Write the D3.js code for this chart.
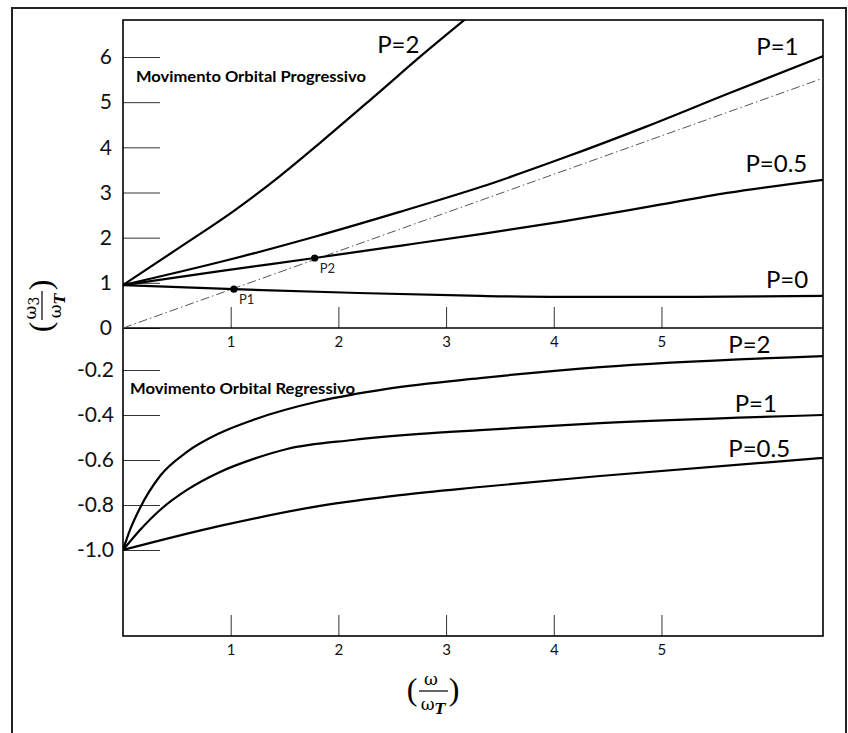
<!DOCTYPE html>
<html>
<head>
<meta charset="utf-8">
<script src="https://cdn.jsdelivr.net/npm/d3@7"></script>
<style>
  html, body { margin: 0; padding: 0; background: #fff; }
  svg { display: block; }
</style>
</head>
<body>
<svg id="chart" width="848" height="733"></svg>
<script>
// ---------------- data ----------------
const xTicks = [1, 2, 3, 4, 5];
const yTicksUpper = [0, 1, 2, 3, 4, 5, 6];
const yTicksLower = [-0.2, -0.4, -0.6, -0.8, -1.0];

// Movimento orbital progressivo (upper half)
const progP2  = [[0,0.95],[0.53,1.79],[1.04,2.61],[1.46,3.37],[1.83,4.10],[2.34,5.14],[2.80,6.09],[3.19,6.86]];
const progP1  = [[0,0.95],[0.90,1.46],[1.78,2.02],[2.57,2.57],[3.32,3.12],[4.06,3.74],[4.87,4.47],[5.61,5.18],[6.5,6.02]];
const progP05 = [[0,0.95],[0.90,1.26],[1.78,1.55],[2.57,1.82],[3.32,2.08],[4.06,2.35],[4.87,2.68],[5.61,2.99],[6.5,3.28]];
const progP0  = [[0,0.95],[1.03,0.86],[2.11,0.78],[3.32,0.71],[4.06,0.69],[5.3,0.69],[6.5,0.71]];
const refLine = [[0,0],[6.5,5.53]];
const points  = [{name:"P1", x:1.03, y:0.86}, {name:"P2", x:1.78, y:1.55}];

// Movimento orbital regressivo (lower half)
const regP2  = [[0,-1],[0.065,-0.911],[0.158,-0.813],[0.344,-0.671],[0.594,-0.564],[0.901,-0.48],[1.207,-0.422],[1.829,-0.338],[2.451,-0.284],[3.315,-0.236],[4.429,-0.187],[6.5,-0.138]];
const regP1  = [[0,-1],[0.158,-0.911],[0.344,-0.822],[0.594,-0.733],[0.901,-0.653],[1.207,-0.596],[1.523,-0.551],[2.136,-0.511],[2.758,-0.484],[3.315,-0.467],[4.429,-0.436],[6.5,-0.40]];
const regP05 = [[0,-1],[0.901,-0.893],[1.829,-0.804],[2.572,-0.756],[3.315,-0.72],[4.429,-0.671],[6.5,-0.591]];

// ---------------- layout ----------------
const svg = d3.select("#chart");
const L = 123, R = 823, T = 20, B = 636, MID = 328;

const x = d3.scaleLinear().domain([0, 6.5]).range([L, R]);
const yU = d3.scaleLinear().domain([0, 6]).range([MID, 57]);
const yL = d3.scaleLinear().domain([-1, -0.2]).range([550, 370]);

const labelFont = "Lato, 'Open Sans', sans-serif";

// outer frame
svg.append("rect").attr("x", 12).attr("y", 8).attr("width", 834).attr("height", 760)
  .attr("fill", "none").attr("stroke", "#222").attr("stroke-width", 2);

// clip
svg.append("clipPath").attr("id", "plotclip").append("rect")
  .attr("x", L).attr("y", T).attr("width", R - L).attr("height", B - T);

// y axis upper
const gyU = svg.append("g").attr("transform", `translate(${L},0)`)
  .call(d3.axisLeft(yU).tickValues(yTicksUpper).tickSize(-37).tickPadding(11).tickFormat(d => String(d)));
// y axis lower
const gyL = svg.append("g").attr("transform", `translate(${L},0)`)
  .call(d3.axisLeft(yL).tickValues(yTicksLower).tickSize(-37).tickPadding(9).tickFormat(d => d.toFixed(1)));
[gyU, gyL].forEach(g => {
  g.select(".domain").remove();
  g.selectAll(".tick line").attr("stroke", "#333").attr("stroke-width", 1);
  g.selectAll(".tick text").attr("font-family", labelFont).attr("font-size", 21).attr("fill", "#111");
});

// x axis middle and bottom
[MID, B].forEach(yy => {
  const g = svg.append("g").attr("transform", `translate(0,${yy})`)
    .call(d3.axisBottom(x).tickValues(xTicks).tickSize(-21).tickPadding(8).tickFormat(d => String(d)));
  g.select(".domain").remove();
  g.selectAll(".tick line").attr("stroke", "#333").attr("stroke-width", 1);
  g.selectAll(".tick text").attr("font-family", labelFont).attr("font-size", 15).attr("fill", "#111");
});

// box and middle line
svg.append("rect").attr("x", L).attr("y", T).attr("width", R - L).attr("height", B - T)
  .attr("fill", "none").attr("stroke", "#000").attr("stroke-width", 1.6);
svg.append("line").attr("x1", L).attr("x2", R).attr("y1", MID).attr("y2", MID)
  .attr("stroke", "#000").attr("stroke-width", 1.6);

// curves
const plot = svg.append("g").attr("clip-path", "url(#plotclip)");
const lineU = d3.line().x(d => x(d[0])).y(d => yU(d[1])).curve(d3.curveMonotoneX);
const lineL = d3.line().x(d => x(d[0])).y(d => yL(d[1])).curve(d3.curveMonotoneX);

plot.append("path").datum(refLine).attr("d", d3.line().x(d => x(d[0])).y(d => yU(d[1])))
  .attr("fill", "none").attr("stroke", "#555").attr("stroke-width", 1)
  .attr("stroke-dasharray", "9,3,1.5,3");

[progP2, progP1, progP05, progP0].forEach(s => {
  plot.append("path").datum(s).attr("d", lineU)
    .attr("fill", "none").attr("stroke", "#000").attr("stroke-width", 2.2);
});
[regP2, regP1, regP05].forEach(s => {
  plot.append("path").datum(s).attr("d", lineL)
    .attr("fill", "none").attr("stroke", "#000").attr("stroke-width", 2.2);
});

// points P1, P2
svg.selectAll("circle.pt").data(points).enter().append("circle")
  .attr("class", "pt").attr("cx", d => x(d.x)).attr("cy", d => yU(d.y)).attr("r", 3.6).attr("fill", "#000");
svg.selectAll("text.pt").data(points).enter().append("text")
  .attr("class", "pt").attr("x", d => x(d.x) + 5).attr("y", d => yU(d.y) + 15)
  .attr("font-family", labelFont).attr("font-size", 13).attr("fill", "#222").text(d => d.name);

// curve labels
const curveLabels = [
  {t: "P=2",   xv: 2.36, y: 53},
  {t: "P=1",   xv: 5.88, y: 55},
  {t: "P=0.5", xv: 5.78, y: 172},
  {t: "P=0",   xv: 5.97, y: 288},
  {t: "P=2",   xv: 5.62, y: 353},
  {t: "P=1",   xv: 5.68, y: 412},
  {t: "P=0.5", xv: 5.62, y: 457}
];
svg.selectAll("text.cl").data(curveLabels).enter().append("text")
  .attr("class", "cl").attr("x", d => x(d.xv)).attr("y", d => d.y)
  .attr("font-family", labelFont).attr("font-size", 24).attr("fill", "#000").text(d => d.t);

// section titles
svg.append("text").attr("x", 136).attr("y", 82).attr("font-family", labelFont)
  .attr("font-weight", "bold").attr("font-size", 14.5).attr("textLength", 230).attr("lengthAdjust", "spacingAndGlyphs")
  .text("Movimento Orbital Progressivo");
svg.append("text").attr("x", 130).attr("y", 394).attr("font-family", labelFont)
  .attr("font-weight", "bold").attr("font-size", 14.5).attr("textLength", 225).attr("lengthAdjust", "spacingAndGlyphs")
  .text("Movimento Orbital Regressivo");

// axis titles (fractions)
function fraction(g, numSub) {
  const serif = "'DejaVu Serif', 'Liberation Serif', serif";
  const num = g.append("text").attr("x", -2).attr("y", -6).attr("text-anchor", "middle")
    .attr("font-family", serif).attr("font-size", 17);
  num.append("tspan").text("ω");
  if (numSub) num.append("tspan").attr("font-size", 14).attr("dy", 3).text(numSub);
  g.append("line").attr("x1", -14).attr("x2", 15).attr("y1", 0).attr("y2", 0)
    .attr("stroke", "#000").attr("stroke-width", 1.2);
  const den = g.append("text").attr("x", 0).attr("y", 19).attr("text-anchor", "middle")
    .attr("font-family", serif).attr("font-size", 17);
  den.append("tspan").text("ω");
  den.append("tspan").attr("font-size", 14).attr("font-weight", "bold").attr("font-style", "italic").attr("dy", 4).text("T");
  g.append("text").attr("x", -21).attr("y", 9).attr("text-anchor", "middle")
    .attr("font-family", "'Liberation Serif', serif").attr("font-size", 32).text("(");
  g.append("text").attr("x", 21).attr("y", 9).attr("text-anchor", "middle")
    .attr("font-family", "'Liberation Serif', serif").attr("font-size", 32).text(")");
}
fraction(svg.append("g").attr("transform", "translate(433,691)"), null);
fraction(svg.append("g").attr("transform", "translate(42,306) rotate(-90)"), "3");
</script>
</body>
</html>
